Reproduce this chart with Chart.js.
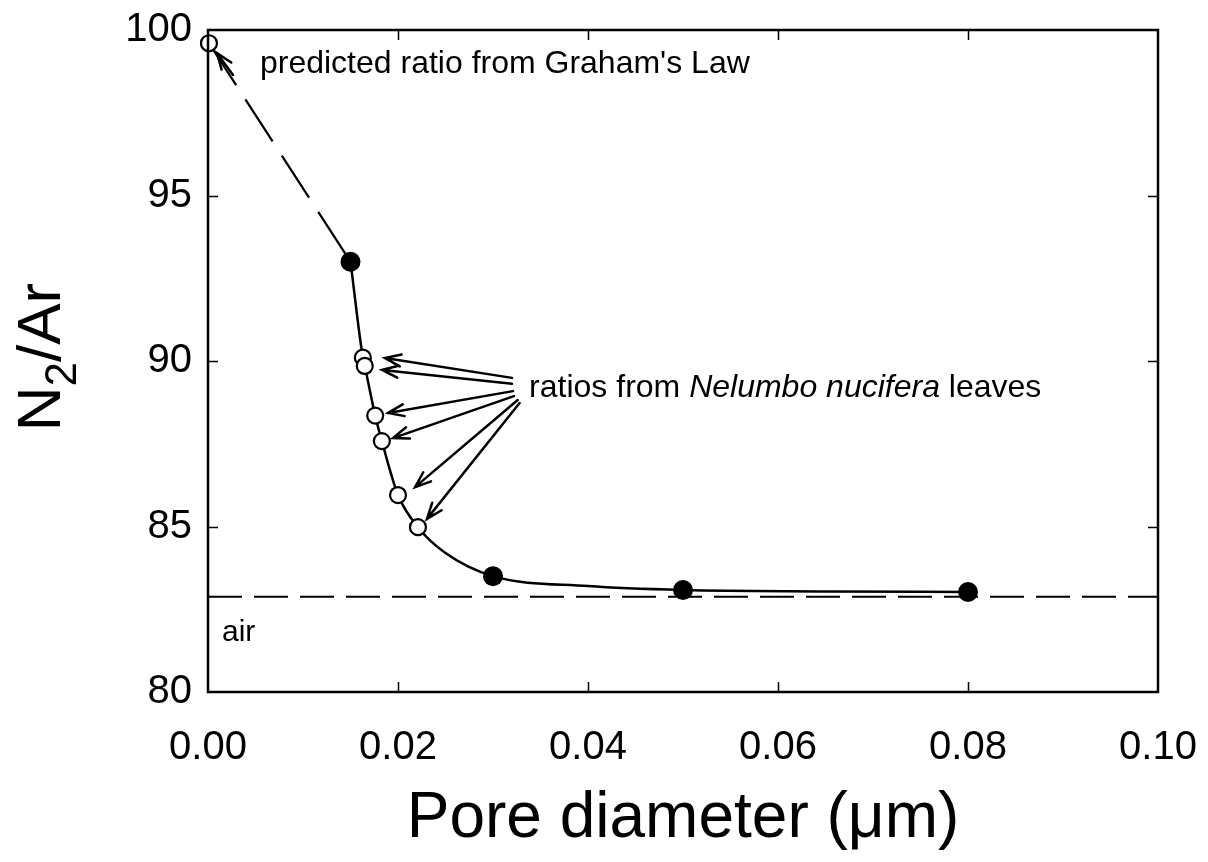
<!DOCTYPE html>
<html><head><meta charset="utf-8">
<script src="https://cdn.jsdelivr.net/npm/chart.js@4.4.0/dist/chart.umd.min.js"></script>
<style>html,body{margin:0;padding:0;background:#fff}</style>
</head><body>
<canvas id="c" width="1208" height="862" style="width:1208px;height:862px;display:block"></canvas>
<script>
// ---- data ----
const xTickValues = [0, 0.02, 0.04, 0.06, 0.08, 0.10];
const xTickLabels = ['0.00', '0.02', '0.04', '0.06', '0.08', '0.10'];
const yTickValues = [80, 85, 90, 95, 100];
const yTickLabels = ['80', '85', '90', '95', '100'];

const filledX = [0.015, 0.030, 0.050, 0.080];
const filledY = [93.0, 83.5, 83.08, 83.02];

const leafX = [0.0163, 0.0165, 0.0176, 0.0183, 0.0200, 0.0221];
const leafY = [90.1, 89.85, 88.35, 87.58, 85.95, 84.98];

const grahamX = [0.0001];
const grahamY = [99.6];

const curveX = [0.0150, 0.0163, 0.0165, 0.0176, 0.0183, 0.0200, 0.0221, 0.0250, 0.0300, 0.0400, 0.0500, 0.0650, 0.0800];
const curveY = [93.0, 90.1, 89.85, 88.35, 87.58, 85.95, 84.98, 84.2, 83.5, 83.2, 83.08, 83.04, 83.02];

const grahamLineX = [0.0001, 0.015];
const grahamLineY = [99.6, 93.0];

const airX = [0, 0.1];
const airY = [82.88, 82.88];

// annotation arrows (data coordinates)
const leafArrowTailX = [0.0320, 0.0320, 0.0321, 0.0322, 0.0326, 0.0328];
const leafArrowTailY = [89.49, 89.31, 89.09, 88.94, 88.82, 88.73];
const leafArrowTipX  = [0.01863, 0.01832, 0.01895, 0.01947, 0.02179, 0.02305];
const leafArrowTipY  = [90.09, 89.73, 88.43, 87.67, 86.19, 85.23];
const grahamArrowTail = [0.00263, 98.64];
const grahamArrowTip  = [0.00095, 99.30];

const labelGraham = "predicted ratio from Graham's Law";
const labelLeafParts = [["ratios from ", false], ["Nelumbo nucifera", true], [" leaves", false]];
const labelAir = "air";
const xTitle = "Pore diameter (\u03BCm)";
const yTitleMain = "N", yTitleSub = "2", yTitleRest = "/Ar";

const FONT = "'Liberation Sans', Arial, Helvetica, sans-serif";

const pts = (xs, ys) => xs.map((x, i) => ({x, y: ys[i]}));

const deco = {
  id: 'deco',
  afterDatasetsDraw(chart) {
    const ctx = chart.ctx, a = chart.chartArea;
    const xs = chart.scales.x, ys = chart.scales.y;
    ctx.save();
    // frame
    ctx.strokeStyle = '#000';
    ctx.lineWidth = 2.5;
    ctx.strokeRect(a.left, a.top, a.right - a.left, a.bottom - a.top);
    // inward ticks
    ctx.lineWidth = 1.5;
    const tl = 10;
    xTickValues.forEach(v => {
      const px = Math.round(xs.getPixelForValue(v)) + 0.5;
      if (px <= a.left + 2 || px >= a.right - 2) return;
      ctx.beginPath();
      ctx.moveTo(px, a.bottom); ctx.lineTo(px, a.bottom - tl);
      ctx.moveTo(px, a.top); ctx.lineTo(px, a.top + tl);
      ctx.stroke();
    });
    yTickValues.forEach(v => {
      const py = Math.round(ys.getPixelForValue(v)) + 0.5;
      if (py <= a.top + 2 || py >= a.bottom - 2) return;
      ctx.beginPath();
      ctx.moveTo(a.left, py); ctx.lineTo(a.left + tl, py);
      ctx.moveTo(a.right, py); ctx.lineTo(a.right - tl, py);
      ctx.stroke();
    });
    // arrows
    const arrow = (x1, y1, x2, y2) => {
      const p1x = xs.getPixelForValue(x1), p1y = ys.getPixelForValue(y1);
      const p2x = xs.getPixelForValue(x2), p2y = ys.getPixelForValue(y2);
      const ang = Math.atan2(p2y - p1y, p2x - p1x);
      const hl = 17, ha = 0.36;
      ctx.lineWidth = 2.5;
      ctx.lineCap = 'round';
      ctx.beginPath();
      ctx.moveTo(p1x, p1y); ctx.lineTo(p2x, p2y);
      ctx.moveTo(p2x - hl * Math.cos(ang - ha), p2y - hl * Math.sin(ang - ha));
      ctx.lineTo(p2x, p2y);
      ctx.lineTo(p2x - hl * Math.cos(ang + ha), p2y - hl * Math.sin(ang + ha));
      ctx.stroke();
    };
    leafArrowTailX.forEach((tx, i) => arrow(tx, leafArrowTailY[i], leafArrowTipX[i], leafArrowTipY[i]));
    arrow(grahamArrowTail[0], grahamArrowTail[1], grahamArrowTip[0], grahamArrowTip[1]);
    // text labels
    ctx.fillStyle = '#000';
    ctx.textAlign = 'left';
    ctx.textBaseline = 'alphabetic';
    ctx.font = `32px ${FONT}`;
    ctx.fillText(labelGraham, xs.getPixelForValue(0.00547), ys.getPixelForValue(98.70));
    let lx = xs.getPixelForValue(0.0338);
    const ly = ys.getPixelForValue(88.92);
    labelLeafParts.forEach(([t, it]) => {
      ctx.font = `${it ? 'italic ' : ''}32px ${FONT}`;
      ctx.fillText(t, lx, ly);
      lx += ctx.measureText(t).width;
    });
    ctx.font = `30px ${FONT}`;
    ctx.fillText(labelAir, xs.getPixelForValue(0.00147), ys.getPixelForValue(81.55));
    // y title with subscript
    ctx.translate(60, 357);
    ctx.rotate(-Math.PI / 2);
    const fMain = `62px ${FONT}`, fSub = `44px ${FONT}`;
    ctx.font = fMain; const w1 = ctx.measureText(yTitleMain).width, w3 = ctx.measureText(yTitleRest).width;
    ctx.font = fSub; const w2 = ctx.measureText(yTitleSub).width;
    let sx = -(w1 + w2 + w3) / 2;
    ctx.font = fMain; ctx.fillText(yTitleMain, sx, 0); sx += w1;
    ctx.font = fSub; ctx.fillText(yTitleSub, sx, 16); sx += w2;
    ctx.font = fMain; ctx.fillText(yTitleRest, sx, 0);
    ctx.restore();
  }
};

const zeroPad = s => { s.paddingTop = 0; s.paddingBottom = 0; s.paddingLeft = 0; s.paddingRight = 0; };

new Chart(document.getElementById('c'), {
  type: 'scatter',
  data: {
    datasets: [
      { label: 'Graham', data: pts(grahamX, grahamY), pointRadius: 8, pointBackgroundColor: '#fff', pointBorderColor: '#000', pointBorderWidth: 2.2, showLine: false, clip: false, order: 1 },
      { label: 'leaves', data: pts(leafX, leafY), pointRadius: 8, pointBackgroundColor: '#fff', pointBorderColor: '#000', pointBorderWidth: 2.2, showLine: false, clip: false, order: 1 },
      { label: 'measured', data: pts(filledX, filledY), pointRadius: 10, pointBackgroundColor: '#000', pointBorderColor: '#000', pointBorderWidth: 0, showLine: false, clip: false, order: 2 },
      { label: 'curve', data: pts(curveX, curveY), showLine: true, borderColor: '#000', borderWidth: 2.5, pointRadius: 0, cubicInterpolationMode: 'monotone', clip: false, order: 3 },
      { label: 'graham line', data: pts(grahamLineX, grahamLineY), showLine: true, borderColor: '#000', borderWidth: 2.2, borderDash: [50, 17], pointRadius: 0, clip: false, order: 3 },
      { label: 'air', data: pts(airX, airY), showLine: true, borderColor: '#000', borderWidth: 2, borderDash: [34, 12], pointRadius: 0, clip: false, order: 4 }
    ]
  },
  options: {
    responsive: false,
    animation: false,
    devicePixelRatio: 1,
    layout: { padding: { top: 30, right: 50, left: 0, bottom: 0 } },
    plugins: { legend: { display: false }, tooltip: { enabled: false } },
    scales: {
      x: {
        type: 'linear', min: 0, max: 0.1,
        afterBuildTicks: s => { s.ticks = xTickValues.map(v => ({ value: v })); },
        afterFit: s => { s.height = 170; zeroPad(s); },
        grid: { display: false, drawTicks: false },
        border: { display: false },
        ticks: { padding: 32, maxRotation: 0, color: '#000', font: { family: FONT, size: 40 },
          callback: (v) => { const i = xTickValues.findIndex(t => Math.abs(t - v) < 1e-9); return i >= 0 ? xTickLabels[i] : ''; } },
        title: { display: true, text: xTitle, color: '#000', font: { family: FONT, size: 64 }, padding: { top: 0, bottom: 4 } }
      },
      y: {
        type: 'linear', min: 80, max: 100,
        afterBuildTicks: s => { s.ticks = yTickValues.map(v => ({ value: v })); },
        afterFit: s => { s.width = 208; zeroPad(s); },
        grid: { display: false, drawTicks: false },
        border: { display: false },
        ticks: { padding: 16, color: '#000', font: { family: FONT, size: 40 },
          callback: (v) => { const i = yTickValues.indexOf(v); return i >= 0 ? yTickLabels[i] : ''; } }
      }
    }
  },
  plugins: [deco]
});
</script>
</body></html>
